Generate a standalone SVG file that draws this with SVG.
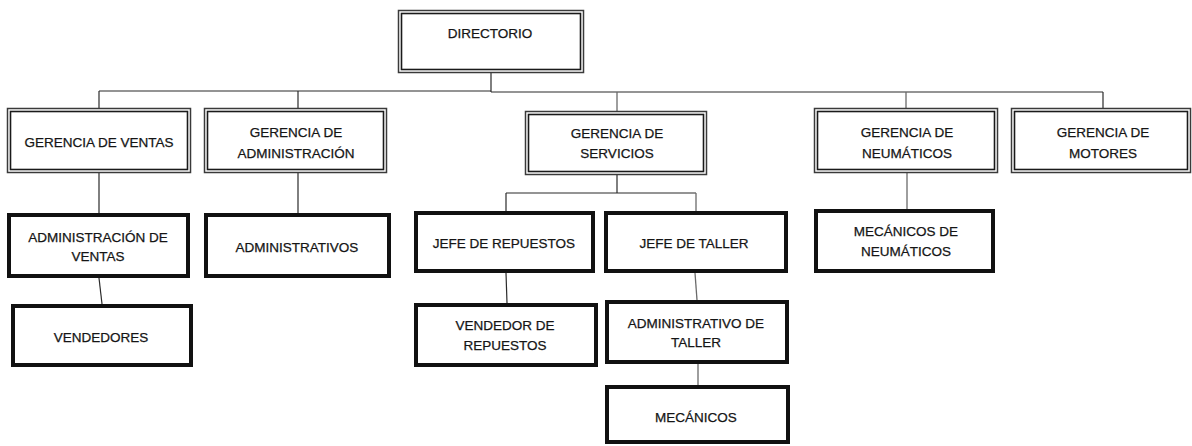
<svg xmlns="http://www.w3.org/2000/svg" width="1192" height="446" viewBox="0 0 1192 446">
<style>
.bg{fill:#ffffff}
.o{fill:#ffffff;stroke:#3a3a3a;stroke-width:1.5}
.i{fill:none;stroke:#1a1a1a;stroke-width:1.6}
.t{fill:#ffffff;stroke:#111111;stroke-width:4}
.c{fill:none;stroke:#2a2a2a;stroke-width:1.2}
.g{fill:none;stroke:#6a6a6a;stroke-width:1.3}
text{font-family:"Liberation Sans",Arial,sans-serif;font-size:13.5px;fill:#151515;stroke:#151515;stroke-width:0.25;text-anchor:middle}
</style>
<rect class="bg" x="0" y="0" width="1192" height="446"/>
<g id="connectors">
<line class="c" x1="491" y1="73" x2="491" y2="92"/>
<line class="c" x1="99" y1="91" x2="491" y2="91"/>
<line class="c" x1="491" y1="92" x2="1103" y2="92"/>
<line class="c" x1="99" y1="91" x2="99" y2="108"/>
<line class="c" x1="298" y1="91" x2="298" y2="108"/>
<line class="g" x1="617" y1="92" x2="617" y2="111"/>
<line class="g" x1="906" y1="92" x2="906" y2="108"/>
<line class="c" x1="1103" y1="92" x2="1103" y2="108"/>
<line class="c" x1="99" y1="173" x2="99" y2="213"/>
<line class="c" x1="298" y1="173" x2="298" y2="213"/>
<line class="c" x1="99" y1="278" x2="102" y2="304"/>
<line class="c" x1="617" y1="175" x2="617" y2="193"/>
<line class="c" x1="506" y1="193" x2="696" y2="193"/>
<line class="c" x1="506" y1="193" x2="506" y2="211"/>
<line class="g" x1="696" y1="193" x2="696" y2="211"/>
<line class="c" x1="506" y1="273" x2="507" y2="303"/>
<line class="g" x1="695" y1="273" x2="697" y2="300"/>
<line class="g" x1="698" y1="364" x2="698" y2="385"/>
<line class="g" x1="907" y1="173" x2="907" y2="209"/>
</g>
<g id="directorio">
<rect class="o" x="398.5" y="10.5" width="185" height="62"/>
<rect class="i" x="401.5" y="13.5" width="179" height="56"/>
<text x="490" y="38">DIRECTORIO</text>
</g>
<g id="gerencia-ventas">
<rect class="o" x="7.5" y="108.5" width="183" height="64"/>
<rect class="i" x="10.5" y="111.5" width="177" height="58"/>
<text x="99" y="147">GERENCIA DE VENTAS</text>
</g>
<g id="gerencia-administracion">
<rect class="o" x="204.5" y="108.5" width="182" height="64"/>
<rect class="i" x="207.5" y="111.5" width="176" height="58"/>
<text x="296" y="137">GERENCIA DE</text>
<text x="296" y="158">ADMINISTRACIÓN</text>
</g>
<g id="gerencia-servicios">
<rect class="o" x="525.5" y="111.5" width="181" height="63"/>
<rect class="i" x="528.5" y="114.5" width="175" height="57"/>
<text x="617" y="138">GERENCIA DE</text>
<text x="617" y="158">SERVICIOS</text>
</g>
<g id="gerencia-neumaticos">
<rect class="o" x="814.5" y="108.5" width="183" height="64"/>
<rect class="i" x="817.5" y="111.5" width="177" height="58"/>
<text x="907" y="137">GERENCIA DE</text>
<text x="907" y="158">NEUMÁTICOS</text>
</g>
<g id="gerencia-motores">
<rect class="o" x="1011.5" y="108.5" width="179" height="64"/>
<rect class="i" x="1014.5" y="111.5" width="173" height="58"/>
<text x="1103" y="137">GERENCIA DE</text>
<text x="1103" y="158">MOTORES</text>
</g>
<g id="administracion-ventas">
<rect class="t" x="9" y="215" width="179" height="61"/>
<text x="98" y="242">ADMINISTRACIÓN DE</text>
<text x="98" y="261">VENTAS</text>
</g>
<g id="administrativos">
<rect class="t" x="206" y="215" width="183" height="61"/>
<text x="297" y="252">ADMINISTRATIVOS</text>
</g>
<g id="vendedores">
<rect class="t" x="13" y="306" width="178" height="59"/>
<text x="101" y="342">VENDEDORES</text>
</g>
<g id="jefe-repuestos">
<rect class="t" x="416" y="213" width="177" height="58"/>
<text x="504" y="248">JEFE DE REPUESTOS</text>
</g>
<g id="jefe-taller">
<rect class="t" x="606" y="213" width="180" height="58"/>
<text x="694" y="248">JEFE DE TALLER</text>
</g>
<g id="vendedor-repuestos">
<rect class="t" x="416" y="305" width="180" height="60"/>
<text x="505" y="330">VENDEDOR DE</text>
<text x="505" y="350">REPUESTOS</text>
</g>
<g id="administrativo-taller">
<rect class="t" x="607" y="302" width="180" height="60"/>
<text x="696" y="328">ADMINISTRATIVO DE</text>
<text x="696" y="347">TALLER</text>
</g>
<g id="mecanicos">
<rect class="t" x="607" y="387" width="181" height="55"/>
<text x="696" y="422">MECÁNICOS</text>
</g>
<g id="mecanicos-neumaticos">
<rect class="t" x="816" y="211" width="177" height="60"/>
<text x="906" y="236">MECÁNICOS DE</text>
<text x="906" y="256">NEUMÁTICOS</text>
</g>
</svg>
